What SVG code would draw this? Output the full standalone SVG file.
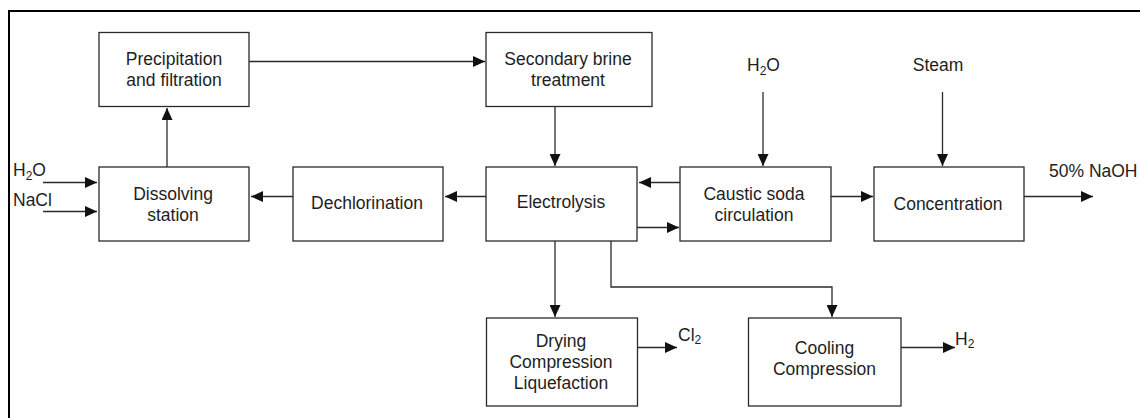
<svg xmlns="http://www.w3.org/2000/svg" width="1140" height="418" viewBox="0 0 1140 418">
<style>
.box{fill:#fff;stroke:#2a2a2a;stroke-width:1.3}
.t{font-family:"Liberation Sans",Arial,sans-serif;font-size:17.5px;fill:#1e1e1e}
.c{text-anchor:middle}
.ln{fill:none;stroke:#2a2a2a;stroke-width:1.3;marker-end:url(#ah)}
.sub{font-size:12px}
</style>
<defs>
<marker id="ah" markerUnits="userSpaceOnUse" viewBox="0 0 12 11" markerWidth="12" markerHeight="11" refX="12" refY="5.5" orient="auto">
<path d="M0,0 L12,5.5 L0,11 z" fill="#111"/>
</marker>
</defs>
<rect width="1140" height="418" fill="#fff"/>
<g id="frame">
<line x1="9" y1="10" x2="9" y2="418" stroke="#000" stroke-width="2"/>
<line x1="8" y1="11" x2="1140" y2="11" stroke="#000" stroke-width="2"/>
</g>
<g id="connectors">
<line class="ln" x1="43" y1="182.5" x2="97" y2="182.5"/>
<line class="ln" x1="43" y1="211.5" x2="97" y2="211.5"/>
<line class="ln" x1="167" y1="167" x2="167" y2="108"/>
<line class="ln" x1="249" y1="61.5" x2="485" y2="61.5"/>
<line class="ln" x1="555" y1="107" x2="555" y2="166"/>
<line class="ln" x1="486" y1="196.5" x2="445" y2="196.5"/>
<line class="ln" x1="293" y1="196.5" x2="251" y2="196.5"/>
<line class="ln" x1="680" y1="182.5" x2="639" y2="182.5"/>
<line class="ln" x1="637" y1="227.5" x2="679" y2="227.5"/>
<line class="ln" x1="763" y1="92" x2="763" y2="166"/>
<line class="ln" x1="831" y1="196.5" x2="873" y2="196.5"/>
<line class="ln" x1="942.5" y1="92" x2="942.5" y2="166"/>
<line class="ln" x1="1024" y1="196.5" x2="1093" y2="196.5"/>
<line class="ln" x1="555" y1="241" x2="555" y2="317"/>
<polyline class="ln" points="611,241 611,287 832,287 832,317"/>
<line class="ln" x1="637" y1="347.5" x2="677" y2="347.5"/>
<line class="ln" x1="901" y1="347.5" x2="955" y2="347.5"/>
</g>
<g id="precipitation">
<rect class="box" x="99" y="32.5" width="150" height="74"/>
<text class="t c" x="174" y="65">Precipitation</text>
<text class="t c" x="174" y="86">and filtration</text>
</g>
<g id="secondary">
<rect class="box" x="486" y="32.5" width="166" height="74"/>
<text class="t c" x="568" y="64.5">Secondary brine</text>
<text class="t c" x="568" y="86">treatment</text>
</g>
<g id="dissolving">
<rect class="box" x="99" y="167" width="150" height="74"/>
<text class="t c" x="173" y="199.5">Dissolving</text>
<text class="t c" x="173" y="220.5">station</text>
</g>
<g id="dechlorination">
<rect class="box" x="293" y="167" width="150" height="74"/>
<text class="t c" x="367" y="209">Dechlorination</text>
</g>
<g id="electrolysis">
<rect class="box" x="486" y="167" width="151" height="74"/>
<text class="t c" x="561" y="207.5">Electrolysis</text>
</g>
<g id="caustic">
<rect class="box" x="680" y="167" width="151" height="74"/>
<text class="t c" x="754" y="199.5">Caustic soda</text>
<text class="t c" x="754" y="220.5">circulation</text>
</g>
<g id="concentration">
<rect class="box" x="874" y="167" width="150" height="74"/>
<text class="t c" x="948" y="209.5">Concentration</text>
</g>
<g id="drying">
<rect class="box" x="486.5" y="318" width="151" height="88"/>
<text class="t c" x="561" y="346.5">Drying</text>
<text class="t c" x="561" y="367.5">Compression</text>
<text class="t c" x="561" y="388.5">Liquefaction</text>
</g>
<g id="cooling">
<rect class="box" x="748.5" y="318" width="152.5" height="88"/>
<text class="t c" x="824.5" y="353.5">Cooling</text>
<text class="t c" x="824.5" y="374.5">Compression</text>
</g>
<g id="labels">
<text class="t" x="13" y="176">H<tspan class="sub" dy="4">2</tspan><tspan dy="-4">O</tspan></text>
<text class="t" x="13" y="206">NaCl</text>
<text class="t" x="747" y="71">H<tspan class="sub" dy="4">2</tspan><tspan dy="-4">O</tspan></text>
<text class="t c" x="938" y="71">Steam</text>
<text class="t" x="1049" y="177">50% NaOH</text>
<text class="t" x="678" y="341">Cl<tspan class="sub" dy="3">2</tspan></text>
<text class="t" x="955" y="345">H<tspan class="sub" dy="3">2</tspan></text>
</g>
</svg>
